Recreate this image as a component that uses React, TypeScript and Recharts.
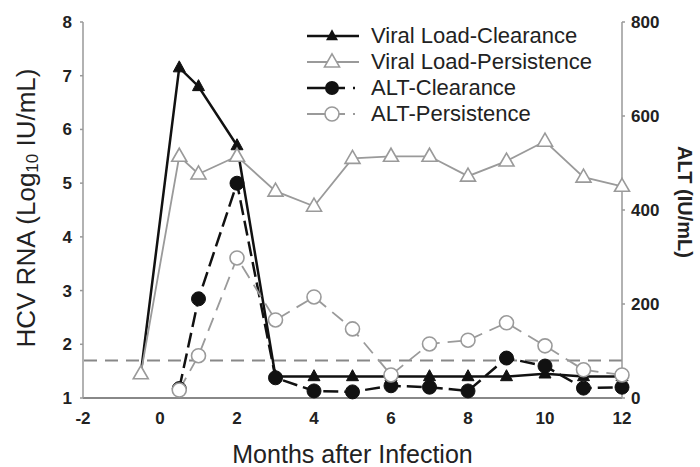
import { LineChart, Line, XAxis, YAxis, ReferenceLine } from "recharts";

// months for viral load and ALT series
const vlMonths = [-0.5, 0.5, 1, 2, 3, 4, 5, 6, 7, 8, 9, 10, 11, 12];
const vlClearance = [1.45, 7.15, 6.8, 5.7, 1.4, 1.4, 1.4, 1.4, 1.4, 1.4, 1.4, 1.45, 1.4, 1.4];
const vlPersistence = [1.45, 5.5, 5.17, 5.5, 4.85, 4.57, 5.46, 5.5, 5.5, 5.13, 5.41, 5.78, 5.11, 4.94];

const altMonths = [0.5, 1, 2, 3, 4, 5, 6, 7, 8, 9, 10, 11, 12];
const altClearance = [20, 211, 457, 43, 15, 13, 26, 23, 15, 85, 68, 21, 23];
const altPersistence = [17, 90, 298, 166, 215, 147, 49, 115, 123, 160, 111, 60, 49];

const altNormal = 80;

const xTicks = [-2, 0, 2, 4, 6, 8, 10, 12];
const leftTicks = [1, 2, 3, 4, 5, 6, 7, 8];
const rightTicks = [0, 200, 400, 600, 800];

const toRows = (xs: number[], ys: number[]) => xs.map((m, i) => ({ month: m, value: ys[i] }));

const FONT = "'Liberation Sans', Arial, sans-serif";
const BLACK = "#111";
const GREY = "#9a9a9a";

const triPath = (cx: number, cy: number, w: number, h: number) =>
  `M${cx},${cy - h * 0.62} L${cx + w / 2},${cy + h * 0.38} L${cx - w / 2},${cy + h * 0.38} Z`;

const FilledTri = (p: any) =>
  p.cx == null ? null : <path key={p.key ?? p.index} d={triPath(p.cx, p.cy, 12, 11)} fill={BLACK} stroke={BLACK} strokeWidth={1} />;
const OpenTri = (p: any) =>
  p.cx == null ? null : <path key={p.key ?? p.index} d={triPath(p.cx, p.cy, 15, 13)} fill="#fff" stroke={GREY} strokeWidth={1.6} />;
const FilledDot = (p: any) =>
  p.cx == null ? null : <circle key={p.key ?? p.index} cx={p.cx} cy={p.cy} r={7} fill={BLACK} stroke={BLACK} />;
const OpenDot = (p: any) =>
  p.cx == null ? null : <circle key={p.key ?? p.index} cx={p.cx} cy={p.cy} r={7} fill="#fff" stroke={GREY} strokeWidth={1.6} />;

const legendItems = [
  { name: "Viral Load-Clearance", color: BLACK, dash: undefined, marker: "ftri" },
  { name: "Viral Load-Persistence", color: GREY, dash: undefined, marker: "otri" },
  { name: "ALT-Clearance", color: BLACK, dash: "38 8 2 8", marker: "fdot" },
  { name: "ALT-Persistence", color: GREY, dash: "38 8 2 8", marker: "odot" },
];

const LegendBox = () => (
  <div style={{ position: "absolute", left: 305, top: 23, fontFamily: FONT }}>
    {legendItems.map((it) => (
      <div key={it.name} style={{ display: "flex", alignItems: "center", height: 26 }}>
        <svg width={60} height={22}>
          <line x1={2} y1={11} x2={54} y2={11} stroke={it.color} strokeWidth={it.color === BLACK ? 2.5 : 1.8} strokeDasharray={it.dash} />
          {it.marker === "ftri" && <path d={triPath(27, 11, 12, 11)} fill={BLACK} />}
          {it.marker === "otri" && <path d={triPath(27, 11, 15, 13)} fill="#fff" stroke={GREY} strokeWidth={1.6} />}
          {it.marker === "fdot" && <circle cx={27} cy={11} r={7} fill={BLACK} />}
          {it.marker === "odot" && <circle cx={27} cy={11} r={7} fill="#fff" stroke={GREY} strokeWidth={1.6} />}
        </svg>
        <span style={{ fontSize: 22, color: "#222", marginLeft: 6, lineHeight: "26px" }}>{it.name}</span>
      </div>
    ))}
  </div>
);

const tickStyle = { fontSize: 17, fontWeight: 700, fill: "#222", fontFamily: FONT };

export default function App() {
  return (
    <div style={{ position: "absolute", left: 0, top: 0, width: 700, height: 467, background: "#fff" }}>
      <LineChart width={700} height={467} margin={{ top: 22, right: 0, bottom: 0, left: 0 }}>
        <XAxis
          type="number"
          dataKey="month"
          domain={[-2, 12]}
          ticks={xTicks}
          allowDuplicatedCategory={false}
          height={69}
          tickLine={false}
          tickSize={0}
          tickMargin={14}
          stroke="#888"
          strokeWidth={2}
          tick={tickStyle}
          label={{
            value: "Months after Infection",
            position: "insideBottom",
            offset: 4,
            style: { fontSize: 25, fill: "#222", fontFamily: FONT },
          }}
        />
        <YAxis
          yAxisId="left"
          orientation="left"
          domain={[1, 8]}
          ticks={leftTicks}
          width={83}
          tickSize={3}
          tickMargin={8}
          stroke="#999"
          strokeWidth={1.5}
          tick={tickStyle}
          label={() => (
            <text
              x={26}
              y={208}
              transform="rotate(-90 26 208)"
              textAnchor="middle"
              dominantBaseline="central"
              fontSize={26}
              fill="#222"
              fontFamily={FONT}
            >
              HCV RNA (Log<tspan fontSize={17} dy={6}>10</tspan>
              <tspan dy={-6}> IU/mL)</tspan>
            </text>
          )}
        />
        <YAxis
          yAxisId="right"
          orientation="right"
          domain={[0, 800]}
          ticks={rightTicks}
          width={78}
          tickSize={3}
          tickMargin={6}
          stroke="#999"
          strokeWidth={1.5}
          tick={{ ...tickStyle, textAnchor: "start" }}
          label={() => (
            <text
              x={685}
              y={202}
              transform="rotate(90 685 202)"
              textAnchor="middle"
              dominantBaseline="central"
              fontSize={20}
              fontWeight={700}
              fill="#222"
              fontFamily={FONT}
            >
              ALT (IU/mL)
            </text>
          )}
        />
        <ReferenceLine yAxisId="right" y={altNormal} stroke="#888" strokeWidth={2} strokeDasharray="13 8" />
        <Line
          yAxisId="left"
          data={toRows(vlMonths, vlClearance)}
          dataKey="value"
          name="Viral Load-Clearance"
          stroke={BLACK}
          strokeWidth={2.5}
          dot={FilledTri}
          activeDot={false}
          isAnimationActive={false}
        />
        <Line
          yAxisId="right"
          data={toRows(altMonths, altClearance)}
          dataKey="value"
          name="ALT-Clearance"
          stroke={BLACK}
          strokeWidth={2.5}
          strokeDasharray="15 6"
          dot={FilledDot}
          activeDot={false}
          isAnimationActive={false}
        />
        <Line
          yAxisId="left"
          data={toRows(vlMonths, vlPersistence)}
          dataKey="value"
          name="Viral Load-Persistence"
          stroke={GREY}
          strokeWidth={1.8}
          dot={OpenTri}
          activeDot={false}
          isAnimationActive={false}
        />
        <Line
          yAxisId="right"
          data={toRows(altMonths, altPersistence)}
          dataKey="value"
          name="ALT-Persistence"
          stroke={GREY}
          strokeWidth={1.8}
          strokeDasharray="14 8"
          dot={OpenDot}
          activeDot={false}
          isAnimationActive={false}
        />
      </LineChart>
      <LegendBox />
    </div>
  );
}
